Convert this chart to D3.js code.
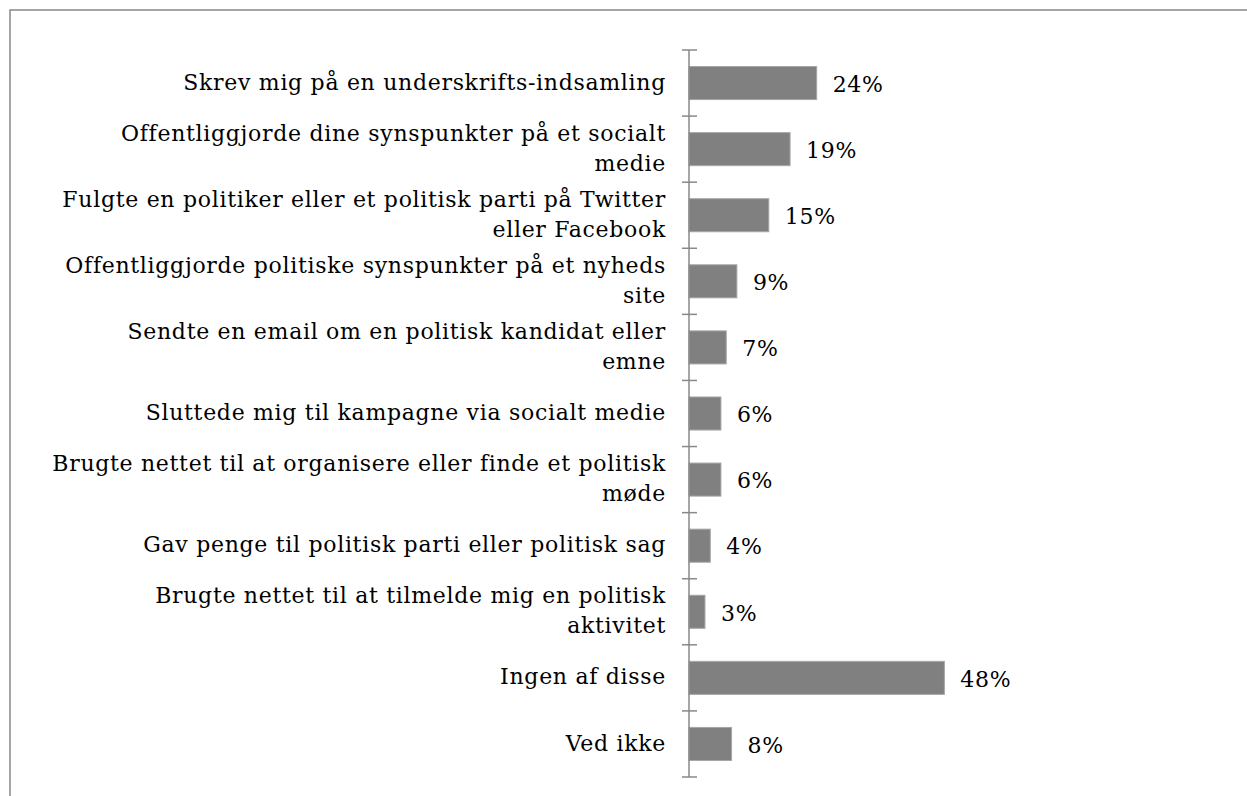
<!DOCTYPE html>
<html>
<head>
<meta charset="utf-8">
<script src="https://cdn.jsdelivr.net/npm/d3@7"></script>
<style>
  body { margin: 0; background: #fff; }
  .chart text { font-family: Georgia, "DejaVu Serif", serif; fill: #000; letter-spacing: 0.7px; }
</style>
</head>
<body>
<div class="chart"></div>
<script>
// Data
var categories = [
  "Skrev mig på en underskrifts-indsamling",
  "Offentliggjorde dine synspunkter på et socialt\nmedie",
  "Fulgte en politiker eller et politisk parti på Twitter\neller Facebook",
  "Offentliggjorde politiske synspunkter på et nyheds\nsite",
  "Sendte en email om en politisk kandidat eller\nemne",
  "Sluttede mig til kampagne via socialt medie",
  "Brugte nettet til at organisere eller finde et politisk\nmøde",
  "Gav penge til politisk parti eller politisk sag",
  "Brugte nettet til at tilmelde mig en politisk\naktivitet",
  "Ingen af disse",
  "Ved ikke"
];
var values = [0.24, 0.19, 0.15, 0.09, 0.07, 0.06, 0.06, 0.04, 0.03, 0.48, 0.08];

var svgWidth = 1247;
var svgHeight = 796;
var margin = {top: 50, left: 689};
var plotHeight = 727;
var plotWidth = 266;
var fontSize = 22;
var formatPercent = d3.format('.0%');

var svg = d3.select('.chart')
  .append('svg')
  .attr('width', svgWidth)
  .attr('height', svgHeight);

// outer frame (runs off right and bottom edges)
svg.append('rect')
  .attr('x', 10).attr('y', 10)
  .attr('width', svgWidth + 20).attr('height', svgHeight + 20)
  .attr('fill', 'none')
  .attr('stroke', '#888')
  .attr('stroke-width', 1.5);

var g = svg.append('g')
  .attr('transform', 'translate(' + margin.left + ',' + margin.top + ')');

var y = d3.scaleBand().domain(categories).range([0, plotHeight]).paddingInner(0.5).paddingOuter(0.25);
var x = d3.scaleLinear().domain([0, 0.5]).range([0, plotWidth]);

// bars
g.selectAll('rect.bar')
  .data(values)
  .enter()
  .append('rect')
  .attr('class', 'bar')
  .attr('x', 0)
  .attr('y', function(d, i) { return y(categories[i]); })
  .attr('width', function(d) { return x(d); })
  .attr('height', y.bandwidth())
  .attr('fill', '#808080')
  .attr('stroke', '#a6a6a6')
  .attr('stroke-width', 1);

// value labels
g.selectAll('text.val')
  .data(values)
  .enter()
  .append('text')
  .attr('class', 'val')
  .attr('x', function(d) { return x(d) + 16; })
  .attr('y', function(d, i) { return y(categories[i]) + y.bandwidth() / 2; })
  .attr('dy', '0.4em')
  .style('font-size', fontSize + 'px')
  .text(function(d) { return formatPercent(d); });

// category axis: line + ticks at band boundaries
var step = y.step();
var tickPos = d3.range(categories.length + 1).map(function(i) { return i * step; });

g.append('line')
  .attr('x1', 0).attr('x2', 0)
  .attr('y1', 0).attr('y2', plotHeight)
  .attr('stroke', '#888').attr('stroke-width', 1.5);

g.selectAll('line.tick')
  .data(tickPos)
  .enter()
  .append('line')
  .attr('class', 'tick')
  .attr('x1', -7).attr('x2', 8)
  .attr('y1', function(d) { return d; })
  .attr('y2', function(d) { return d; })
  .attr('stroke', '#888').attr('stroke-width', 1.5);

// category labels
var lineHeight = 30;
categories.forEach(function(c, i) {
  var lines = c.split('\n');
  var cy = y(c) + y.bandwidth() / 2;
  var t = g.append('text')
    .attr('text-anchor', 'end')
    .style('font-size', fontSize + 'px');
  lines.forEach(function(l, j) {
    t.append('tspan')
      .attr('x', -23)
      .attr('y', cy + (j - (lines.length - 1) / 2) * lineHeight)
      .attr('dy', '0.3em')
      .text(l);
  });
});
</script>
</body>
</html>
